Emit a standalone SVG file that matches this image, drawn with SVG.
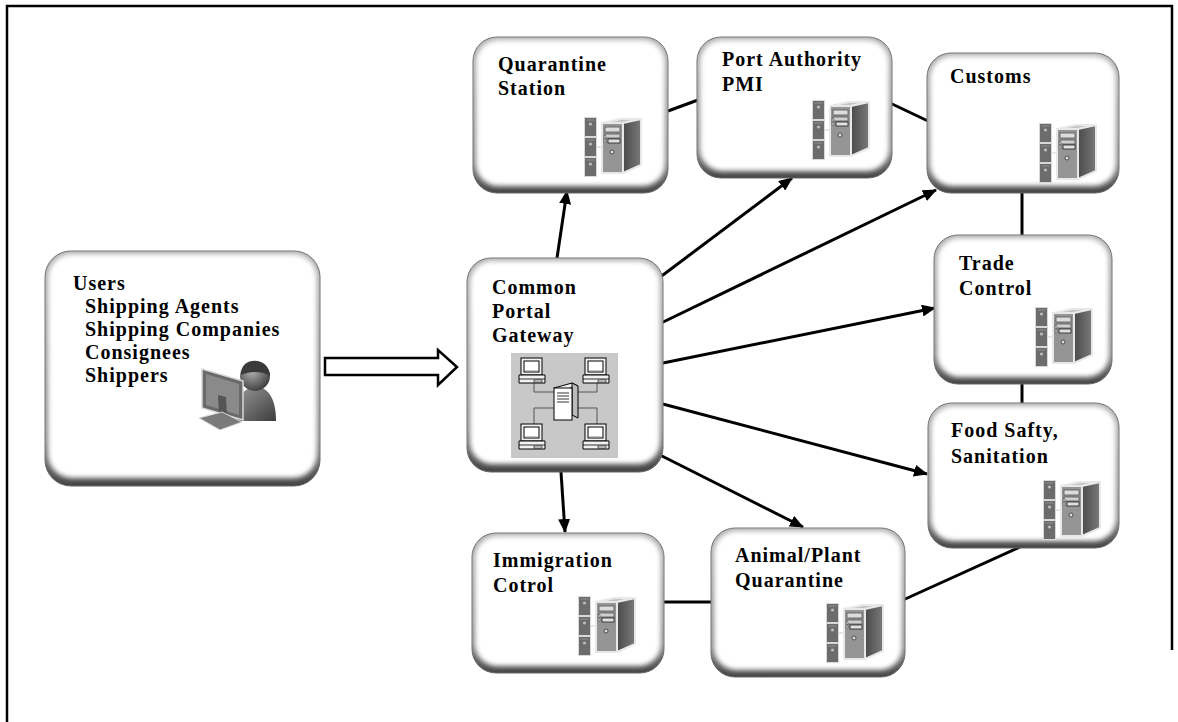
<svg xmlns="http://www.w3.org/2000/svg" width="1178" height="722" viewBox="0 0 1178 722">
  <style>
    .shell { fill: url(#shellGrad); stroke: #666; stroke-width: 1; }
    .face { fill: #ffffff; filter: url(#soft); }
    .label { font-family: "Liberation Serif", "Times New Roman", serif; font-weight: bold; font-size: 20px; letter-spacing: 1px; fill: #000; }
    .link { stroke: #000; stroke-width: 3; fill: none; }
    .arrow { stroke: #000; stroke-width: 3; fill: none; marker-end: url(#head); }
  </style>
  <defs>
    <linearGradient id="shellGrad" x1="0" y1="0" x2="0" y2="1">
      <stop offset="0" stop-color="#b0b0b0"/>
      <stop offset="0.8" stop-color="#888"/>
      <stop offset="1" stop-color="#444"/>
    </linearGradient>
    <filter id="soft" x="-5%" y="-5%" width="110%" height="110%">
      <feGaussianBlur stdDeviation="2.4"/>
    </filter>
    <linearGradient id="sideGrad" x1="0" y1="0" x2="1" y2="0">
      <stop offset="0" stop-color="#4a4a4a"/>
      <stop offset="1" stop-color="#7a7a7a"/>
    </linearGradient>
    <radialGradient id="headGrad" cx="0.4" cy="0.35" r="0.7">
      <stop offset="0" stop-color="#b0b0b0"/>
      <stop offset="1" stop-color="#3a3a3a"/>
    </radialGradient>
    <linearGradient id="bodyGrad" x1="0" y1="0" x2="1" y2="1">
      <stop offset="0" stop-color="#9a9a9a"/>
      <stop offset="1" stop-color="#3c3c3c"/>
    </linearGradient>
    <marker id="head" viewBox="0 0 14 12" refX="13" refY="6" markerWidth="14" markerHeight="12" markerUnits="userSpaceOnUse" orient="auto">
      <path d="M0,0 L14,6 L0,12 Z" fill="#000"/>
    </marker>

    <!-- rack units plus a tower PC -->
    <symbol id="server" viewBox="0 0 58 60">
      <g stroke="#d8d8d8" stroke-width="1">
        <rect x="0.5" y="0.5" width="12" height="19" fill="#6c6c6c"/>
        <rect x="0.5" y="20.5" width="12" height="19" fill="#6c6c6c"/>
        <rect x="0.5" y="40.5" width="12" height="19" fill="#6c6c6c"/>
      </g>
      <g fill="#bcbcbc">
        <circle cx="6.5" cy="7" r="1.6"/>
        <circle cx="6.5" cy="27" r="1.6"/>
        <circle cx="6.5" cy="47" r="1.6"/>
      </g>
      <g stroke="#9a9a9a" stroke-width="0.8">
        <line x1="2.5" y1="3" x2="10.5" y2="3"/>
        <line x1="2.5" y1="23" x2="10.5" y2="23"/>
        <line x1="2.5" y1="43" x2="10.5" y2="43"/>
      </g>
      <line x1="13" y1="30" x2="18" y2="30" stroke="#d0d0d0" stroke-width="1"/>
      <g stroke="#e8e8e8" stroke-width="2" stroke-linejoin="round">
        <polygon points="18,6 37,2 57,2 39,6" fill="#c4c4c4"/>
        <polygon points="39,6 57,2 57,48 39,56" fill="url(#sideGrad)"/>
        <rect x="18" y="6" width="21" height="50" fill="#959595"/>
      </g>
      <rect x="21" y="10" width="15" height="5" fill="#dcdcdc" stroke="#555" stroke-width="0.8"/>
      <rect x="21" y="17" width="15" height="4" fill="#cfcfcf" stroke="#555" stroke-width="0.8"/>
      <rect x="24" y="22" width="12" height="4" fill="#e0e0e0" stroke="#222" stroke-width="0.8"/>
      <rect x="20" y="19" width="2" height="2" fill="#eee" stroke="#444" stroke-width="0.5"/>
      <rect x="20" y="23" width="2" height="2" fill="#eee" stroke="#444" stroke-width="0.5"/>
      <circle cx="28" cy="35" r="2" fill="#ddd" stroke="#333" stroke-width="0.8"/>
    </symbol>

    <!-- desktop workstation -->
    <symbol id="pc" viewBox="0 0 28 28">
      <rect x="3" y="1" width="21" height="17" fill="#f2f2f2" stroke="#000" stroke-width="1"/>
      <rect x="6" y="4" width="15" height="11" fill="#fff" stroke="#000" stroke-width="1"/>
      <line x1="7" y1="14" x2="20" y2="14" stroke="#888" stroke-width="1"/>
      <polygon points="1,18 27,18 27,26 1,26" fill="#f2f2f2" stroke="#000" stroke-width="1"/>
      <line x1="1" y1="22" x2="27" y2="22" stroke="#000" stroke-width="0.8"/>
      <rect x="16" y="23" width="8" height="2" fill="#fff" stroke="#000" stroke-width="0.6"/>
    </symbol>
  </defs>

  <rect width="1178" height="722" fill="#fff"/>
  <!-- outer frame -->
  <path d="M7,722 V6 H1172 V650" fill="none" stroke="#000" stroke-width="2.5"/>

  <!-- connectors -->
  <g id="connectors">
    <polygon points="325,358 438,358 438,350 457,367 438,385 438,375 325,375" fill="#fff" stroke="#000" stroke-width="2.5" stroke-linejoin="miter"/>
    <line class="arrow" x1="557" y1="258" x2="567" y2="191"/>
    <line class="arrow" x1="655" y1="281" x2="792" y2="178"/>
    <line class="arrow" x1="657" y1="325" x2="936" y2="190"/>
    <line class="arrow" x1="658" y1="364" x2="935" y2="308"/>
    <line class="arrow" x1="659" y1="403" x2="927" y2="474"/>
    <line class="arrow" x1="660" y1="455" x2="803" y2="527"/>
    <line class="arrow" x1="561" y1="472" x2="565" y2="532"/>
    <line class="link" x1="668" y1="111" x2="698" y2="100"/>
    <line class="link" x1="890" y1="103" x2="928" y2="121"/>
    <line class="link" x1="1022" y1="192" x2="1022" y2="236"/>
    <line class="link" x1="1022" y1="383" x2="1022" y2="404"/>
    <line class="link" x1="1020" y1="547" x2="903" y2="600"/>
    <line class="link" x1="663" y1="602" x2="712" y2="602"/>
  </g>

  <!-- users -->
  <g id="users">
    <rect class="shell" x="45" y="251" width="275" height="235" rx="26"/>
    <rect class="face" x="48" y="254" width="269" height="224" rx="24"/>
    <text class="label" x="73" y="290">Users</text>
    <text class="label" x="85" y="313">Shipping Agents</text>
    <text class="label" x="85" y="336">Shipping Companies</text>
    <text class="label" x="85" y="359">Consignees</text>
    <text class="label" x="85" y="382">Shippers</text>
    <g id="user-icon">
      <path d="M236,421 C234,400 243,387 256,387 C269,387 276,400 276,421 Z" fill="url(#bodyGrad)"/>
      <circle cx="255" cy="376" r="15" fill="url(#headGrad)"/>
      <path d="M241,375 C241,363 250,360 257,361 C265,362 270,369 270,376 C263,371 250,371 241,375 Z" fill="#3a3a3a"/>
      <polygon points="202,369 243,381 243,420 202,408" fill="#6a6a6a" stroke="#d8d8d8" stroke-width="1.5"/>
      <polygon points="206,374 239,384 239,415 206,405" fill="#8a8a8a"/>
      <polygon points="218,395 226,397 227,418 219,416" fill="#555"/>
      <polygon points="199,418 222,412 242,422 220,430" fill="#7a7a7a" stroke="#d8d8d8" stroke-width="1"/>
    </g>
  </g>

  <!-- gateway -->
  <g id="gateway">
    <rect class="shell" x="467" y="258" width="196" height="214" rx="24"/>
    <rect class="face" x="470" y="261" width="190" height="203" rx="22"/>
    <text class="label" x="492" y="294">Common</text>
    <text class="label" x="492" y="318">Portal</text>
    <text class="label" x="492" y="342">Gateway</text>
    <g id="network">
      <rect x="511" y="353" width="107" height="105" fill="#c8c8c8"/>
      <g stroke="#555" stroke-width="1" fill="none">
        <polyline points="534,383 534,392 554,392"/>
        <polyline points="597,383 597,392 578,392"/>
        <polyline points="534,424 534,408 554,408"/>
        <polyline points="597,424 597,408 578,408"/>
      </g>
      <use href="#pc" x="518" y="357" width="28" height="28"/>
      <use href="#pc" x="582" y="357" width="28" height="28"/>
      <use href="#pc" x="518" y="423" width="28" height="28"/>
      <use href="#pc" x="582" y="423" width="28" height="28"/>
      <polygon points="554,388 572,383 578,386 560,391" fill="#f0f0f0" stroke="#000" stroke-width="1"/>
      <polygon points="572,383 578,386 578,418 572,415" fill="#bbb" stroke="#000" stroke-width="1"/>
      <rect x="554" y="388" width="18" height="32" fill="#fff" stroke="#000" stroke-width="1"/>
      <g stroke="#000" stroke-width="0.8">
        <line x1="557" y1="393" x2="569" y2="393"/>
        <line x1="557" y1="396" x2="569" y2="396"/>
        <line x1="557" y1="399" x2="569" y2="399"/>
        <line x1="557" y1="402" x2="569" y2="402"/>
      </g>
    </g>
  </g>

  <g id="quarantine-station">
    <rect class="shell" x="473" y="37" width="195" height="156" rx="24"/>
    <rect class="face" x="476" y="40" width="189" height="146" rx="22"/>
    <text class="label" x="498" y="71">Quarantine</text>
    <text class="label" x="498" y="95">Station</text>
    <use href="#server" x="584" y="117" width="58" height="60"/>
  </g>

  <g id="port-authority">
    <rect class="shell" x="697" y="37" width="195" height="141" rx="24"/>
    <rect class="face" x="700" y="40" width="189" height="131" rx="22"/>
    <text class="label" x="722" y="66">Port Authority</text>
    <text class="label" x="722" y="91">PMI</text>
    <use href="#server" x="812" y="100" width="58" height="60"/>
  </g>

  <g id="customs">
    <rect class="shell" x="927" y="53" width="192" height="140" rx="24"/>
    <rect class="face" x="930" y="56" width="186" height="130" rx="22"/>
    <text class="label" x="950" y="83">Customs</text>
    <use href="#server" x="1039" y="123" width="58" height="60"/>
  </g>

  <g id="trade-control">
    <rect class="shell" x="934" y="235" width="178" height="149" rx="24"/>
    <rect class="face" x="937" y="238" width="172" height="139" rx="22"/>
    <text class="label" x="959" y="270">Trade</text>
    <text class="label" x="959" y="295">Control</text>
    <use href="#server" x="1035" y="307" width="58" height="60"/>
  </g>

  <g id="food-sanitation">
    <rect class="shell" x="928" y="403" width="191" height="145" rx="24"/>
    <rect class="face" x="931" y="406" width="185" height="135" rx="22"/>
    <text class="label" x="951" y="437">Food Safty,</text>
    <text class="label" x="951" y="463">Sanitation</text>
    <use href="#server" x="1043" y="480" width="58" height="60"/>
  </g>

  <g id="immigration">
    <rect class="shell" x="472" y="533" width="192" height="140" rx="24"/>
    <rect class="face" x="475" y="536" width="186" height="130" rx="22"/>
    <text class="label" x="493" y="567">Immigration</text>
    <text class="label" x="493" y="592">Cotrol</text>
    <use href="#server" x="578" y="596" width="58" height="60"/>
  </g>

  <g id="animal-plant">
    <rect class="shell" x="711" y="528" width="194" height="149" rx="24"/>
    <rect class="face" x="714" y="531" width="188" height="139" rx="22"/>
    <text class="label" x="735" y="562">Animal/Plant</text>
    <text class="label" x="735" y="587">Quarantine</text>
    <use href="#server" x="826" y="603" width="58" height="60"/>
  </g>
</svg>
